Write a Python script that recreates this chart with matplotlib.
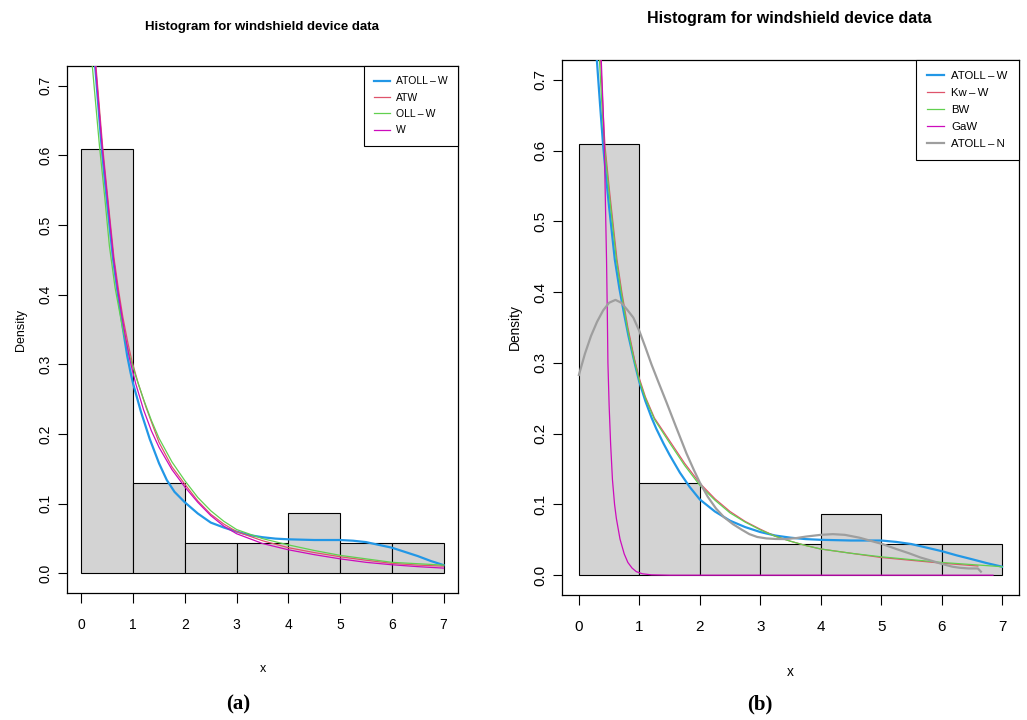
import matplotlib
matplotlib.use("Agg")
import matplotlib.pyplot as plt

# histogram (same data in both panels)
bin_edges = [0, 1, 2, 3, 4, 5, 6, 7]
densities = [0.609, 0.130, 0.0435, 0.0435, 0.087, 0.0435, 0.0435]

# panel (a) fitted densities
a_atollw_x = [0.25, 0.265, 0.30, 0.39, 0.45, 0.50, 0.55, 0.61, 0.70, 0.80, 0.885, 0.95, 1.0, 1.15, 1.32, 1.5, 1.65, 1.8, 2.0, 2.25, 2.5, 2.75, 3.0, 3.25, 3.5, 3.75, 4.0, 4.5, 5.0, 5.25, 5.5, 5.75, 6.0, 6.25, 6.5, 6.75, 7.0]
a_atollw_y = [0.76, 0.728, 0.695, 0.612, 0.566, 0.53, 0.494, 0.452, 0.403, 0.352, 0.312, 0.288, 0.272, 0.232, 0.193, 0.158, 0.134, 0.117, 0.102, 0.086, 0.073, 0.066, 0.060, 0.055, 0.052, 0.050, 0.049, 0.048, 0.048, 0.047, 0.045, 0.041, 0.037, 0.031, 0.025, 0.018, 0.012]
a_atw_x = [0.26, 0.28, 0.41, 0.50, 0.63, 0.72, 0.80, 0.90, 0.975, 1.1, 1.25, 1.5, 1.75, 2.0, 2.25, 2.5, 2.75, 3.0, 3.5, 4.0, 4.5, 5.0, 5.5, 6.0, 6.5, 7.0]
a_atw_y = [0.76, 0.728, 0.612, 0.545, 0.452, 0.405, 0.368, 0.33, 0.305, 0.272, 0.238, 0.188, 0.153, 0.128, 0.104, 0.085, 0.071, 0.060, 0.047, 0.037, 0.030, 0.024, 0.019, 0.0145, 0.012, 0.0105]
a_ollw_x = [0.19, 0.21, 0.35, 0.45, 0.54, 0.65, 0.80, 0.94, 1.05, 1.2, 1.35, 1.5, 1.75, 2.0, 2.25, 2.5, 2.75, 3.0, 3.5, 4.0, 4.5, 5.0, 5.5, 6.0, 6.5, 7.0]
a_ollw_y = [0.76, 0.728, 0.612, 0.54, 0.47, 0.41, 0.35, 0.31, 0.283, 0.25, 0.22, 0.194, 0.16, 0.133, 0.109, 0.090, 0.075, 0.063, 0.050, 0.041, 0.033, 0.026, 0.021, 0.016, 0.014, 0.012]
a_w_x = [0.25, 0.27, 0.40, 0.50, 0.62, 0.70, 0.78, 0.85, 0.925, 1.05, 1.2, 1.35, 1.5, 1.75, 2.0, 2.25, 2.5, 2.75, 3.0, 3.5, 4.0, 4.5, 5.0, 5.5, 6.0, 6.5, 7.0]
a_w_y = [0.76, 0.728, 0.612, 0.54, 0.452, 0.408, 0.37, 0.34, 0.31, 0.272, 0.235, 0.205, 0.181, 0.149, 0.124, 0.102, 0.083, 0.068, 0.057, 0.043, 0.034, 0.027, 0.021, 0.016, 0.0125, 0.0098, 0.0077]

# panel (b) fitted densities
b_atollw_x = [0.28, 0.297, 0.35, 0.40, 0.45, 0.50, 0.594, 0.67, 0.75, 0.82, 0.90, 0.95, 1.0, 1.1, 1.2, 1.28, 1.4, 1.5, 1.67, 1.83, 2.0, 2.25, 2.5, 2.75, 3.0, 3.25, 3.5, 3.75, 4.0, 4.5, 5.0, 5.25, 5.5, 5.75, 6.0, 6.25, 6.5, 6.75, 7.0]
b_atollw_y = [0.76, 0.728, 0.665, 0.608, 0.562, 0.52, 0.446, 0.405, 0.368, 0.338, 0.308, 0.29, 0.273, 0.246, 0.223, 0.207, 0.186, 0.17, 0.145, 0.125, 0.107, 0.09, 0.077, 0.068, 0.061, 0.056, 0.053, 0.051, 0.050, 0.049, 0.049, 0.047, 0.044, 0.039, 0.034, 0.028, 0.0226, 0.017, 0.012]
b_kww_x = [0.34, 0.36, 0.395, 0.43, 0.51, 0.63, 0.71, 0.81, 0.92, 1.0, 1.1, 1.25, 1.5, 1.75, 2.0, 2.25, 2.5, 2.75, 3.0, 3.25, 3.5, 3.75, 4.0, 4.5, 5.0, 5.5, 6.0, 6.6]
b_kww_y = [0.76, 0.728, 0.665, 0.608, 0.54, 0.446, 0.40, 0.35, 0.305, 0.278, 0.252, 0.222, 0.19, 0.158, 0.13, 0.108, 0.09, 0.076, 0.065, 0.055, 0.048, 0.042, 0.037, 0.031, 0.025, 0.021, 0.017, 0.013]
b_bw_x = [0.32, 0.34, 0.38, 0.42, 0.50, 0.62, 0.70, 0.80, 0.91, 1.0, 1.1, 1.25, 1.5, 1.75, 2.0, 2.25, 2.5, 2.75, 3.0, 3.25, 3.5, 3.75, 4.0, 4.5, 5.0, 5.5, 6.0, 6.5, 7.0]
b_bw_y = [0.76, 0.728, 0.665, 0.608, 0.54, 0.446, 0.40, 0.35, 0.305, 0.275, 0.25, 0.22, 0.187, 0.155, 0.127, 0.106, 0.088, 0.075, 0.064, 0.055, 0.048, 0.042, 0.037, 0.031, 0.026, 0.022, 0.018, 0.015, 0.012]
b_gaw_x = [0.36, 0.37, 0.40, 0.42, 0.44, 0.457, 0.47, 0.48, 0.50, 0.525, 0.555, 0.59, 0.62, 0.68, 0.75, 0.81, 0.88, 0.95, 1.05, 1.2, 1.5, 4.0, 6.85]
b_gaw_y = [0.76, 0.728, 0.66, 0.608, 0.52, 0.446, 0.37, 0.30, 0.24, 0.185, 0.135, 0.10, 0.08, 0.051, 0.03, 0.018, 0.010, 0.005, 0.002, 0.0005, 0.0, 0.0, 0.0]
b_atolln_x = [0.0, 0.1, 0.2, 0.3, 0.4, 0.5, 0.605, 0.7, 0.8, 0.9, 1.0, 1.1, 1.2, 1.31, 1.45, 1.6, 1.78, 1.9, 2.0, 2.13, 2.27, 2.4, 2.55, 2.7, 2.82, 2.95, 3.1, 3.25, 3.42, 3.6, 3.76, 4.0, 4.2, 4.4, 4.64, 4.85, 5.02, 5.25, 5.46, 5.65, 5.85, 6.0, 6.18, 6.3, 6.45, 6.6, 6.65]
b_atolln_y = [0.283, 0.313, 0.338, 0.358, 0.374, 0.385, 0.389, 0.385, 0.375, 0.364, 0.345, 0.322, 0.298, 0.274, 0.244, 0.211, 0.172, 0.149, 0.131, 0.111, 0.094, 0.082, 0.072, 0.064, 0.058, 0.054, 0.052, 0.0512, 0.051, 0.0525, 0.0546, 0.057, 0.058, 0.057, 0.053, 0.048, 0.044, 0.037, 0.031, 0.025, 0.020, 0.016, 0.012, 0.0105, 0.0095, 0.0095, 0.005]

BLUE = "#2297E6"
RED = "#DF536B"
GREEN = "#61D04F"
MAGENTA = "#CD0BBC"
GRAY = "#9E9E9E"

plt.rcParams["font.family"] = ["Liberation Sans Narrow", "Liberation Sans", "DejaVu Sans"]


def draw_panel(ax, curves, scale, leg_font):
    ax.bar(bin_edges[:-1], densities, width=1.0, align="edge", color="#D3D3D3",
           edgecolor="black", linewidth=0.8, zorder=1)
    for x, y, color, lw, label in curves:
        ax.plot(x, y, color=color, linewidth=lw, label=label, zorder=3,
                solid_joinstyle="round")
    ax.set_xlim(-0.28, 7.28)
    ax.set_ylim(-0.028, 0.728)
    ax.set_xticks(range(8))
    ax.set_yticks([0.0, 0.1, 0.2, 0.3, 0.4, 0.5, 0.6, 0.7])
    ax.set_yticklabels(["0.0", "0.1", "0.2", "0.3", "0.4", "0.5", "0.6", "0.7"],
                       rotation=90, va="center")
    ax.tick_params(axis="x", length=7, width=0.8, pad=11, labelsize=10 * scale)
    ax.tick_params(axis="y", length=6.5, width=0.8, pad=4, labelsize=10 * scale)
    for sp in ax.spines.values():
        sp.set_linewidth(0.9)
    ax.set_xlabel("x", fontsize=9 * scale, labelpad=22)
    ax.set_ylabel("Density", fontsize=9 * scale, labelpad=8)
    leg = ax.legend(loc="upper right", borderaxespad=0, fancybox=False, framealpha=1,
                    fontsize=leg_font, handlelength=1.5, handletextpad=0.6,
                    labelspacing=0.6, borderpad=1.0)
    leg.get_frame().set_edgecolor("black")
    leg.get_frame().set_linewidth(0.8)


fig = plt.figure(figsize=(10.27, 7.2), dpi=100)
ax_a = fig.add_axes([0.0652, 0.1764, 0.3808, 0.7319])
ax_b = fig.add_axes([0.5472, 0.1736, 0.445, 0.7431])

draw_panel(ax_a, [
    (a_atollw_x, a_atollw_y, BLUE, 1.6, "ATOLL\u2009\u2013\u2009W"),
    (a_atw_x, a_atw_y, RED, 0.9, "ATW"),
    (a_ollw_x, a_ollw_y, GREEN, 0.9, "OLL\u2009\u2013\u2009W"),
    (a_w_x, a_w_y, MAGENTA, 0.9, "W"),
], 1.0, 7.5)

draw_panel(ax_b, [
    (b_atollw_x, b_atollw_y, BLUE, 1.6, "ATOLL\u2009\u2013\u2009W"),
    (b_kww_x, b_kww_y, RED, 0.9, "Kw\u2009\u2013\u2009W"),
    (b_bw_x, b_bw_y, GREEN, 0.9, "BW"),
    (b_gaw_x, b_gaw_y, MAGENTA, 0.9, "GaW"),
    (b_atolln_x, b_atolln_y, GRAY, 1.6, "ATOLL\u2009\u2013\u2009N"),
], 1.1, 8.2)

fig.text(0.255, 0.9625, "Histogram for windshield device data", ha="center", va="center",
         fontsize=9.5, fontweight="bold")
fig.text(0.769, 0.975, "Histogram for windshield device data", ha="center", va="center",
         fontsize=11.5, fontweight="bold")
fig.text(0.232, 0.021, "(a)", ha="center", va="center", fontsize=15,
         family="Liberation Serif", fontweight="bold")
fig.text(0.740, 0.021, "(b)", ha="center", va="center", fontsize=15,
         family="Liberation Serif", fontweight="bold")

fig.savefig("out.png", dpi=100)
